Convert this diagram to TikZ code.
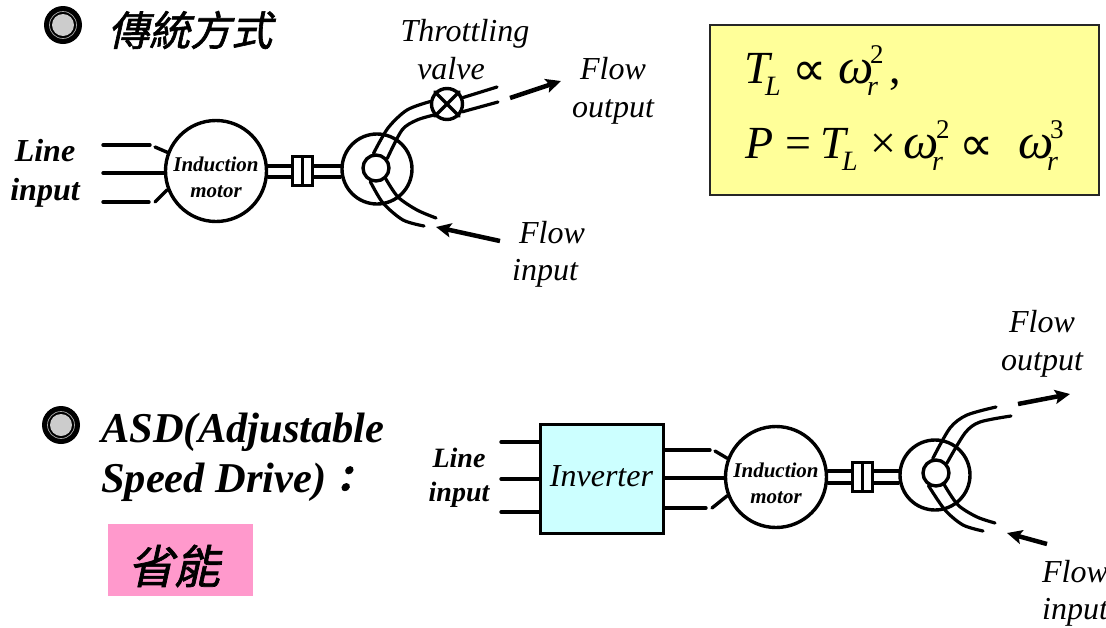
\documentclass[tikz,border=0pt]{standalone}
\usepackage{fontspec}
\setmainfont{Liberation Serif}
\newfontfamily\cjkslant[FakeSlant=0.22,FakeBold=1.5]{Noto Sans CJK TC}
\newfontfamily\symf{DejaVu Sans}
\usetikzlibrary{arrows.meta}
\definecolor{pinkbox}{HTML}{FF99CC}
\definecolor{yellowbox}{HTML}{FFFF99}
\definecolor{cyanbox}{HTML}{CCFFFF}
\newcommand{\fsz}[1]{\fontsize{#1}{#1}\selectfont}
\tikzset{
  x=1pt,y=-1pt,
  wire/.style={line width=3.4pt,line cap=round},
  pipe/.style={line width=3.2pt,line cap=round,line join=round},
  ring/.style={circle,draw,line width=3.4pt,inner sep=0pt,fill=white},
  motor/.style={ring,minimum size=101pt},
  motortext/.style={align=center,inner sep=0pt,font=\fsz{21}\bfseries\itshape},
  pump/.style={ring,fill=none,minimum size=70pt},
  hub/.style={ring,minimum size=26pt},
  valvec/.style={ring,minimum size=31pt},
  flow/.style={line width=4.5pt,-{Stealth[length=15pt,width=14pt,inset=3pt]}},
  shaft/.style={draw,line width=3pt,fill=white,inner sep=0pt,minimum width=1pt},
  divider/.style={line width=3pt},
  lbl/.style={font=\fsz{32}\itshape,align=center,inner sep=0pt},
  blbl/.style={font=\fsz{32}\bfseries\itshape,align=center,inner sep=0pt},
  bulout/.style={circle,fill=black,minimum size=38pt,inner sep=0pt},
  bulmid/.style={circle,fill=black,draw=black!35,line width=0.7pt,minimum size=27pt,inner sep=0pt},
  bulin/.style={circle,fill=black!20,minimum size=22pt,inner sep=0pt},
  eq/.style={anchor=base west,inner sep=0pt,font=\fsz{46}\itshape},
  hd/.style={anchor=base west,inner sep=0pt,font=\fsz{42.5}\bfseries\itshape},
}
% glyph placed at x offset, raised by r, in the size s
\newcommand{\gl}[4]{\rlap{\kern#1pt\raisebox{#2pt}{\fsz{#3}#4}}}
\begin{document}
\begin{tikzpicture}
\useasboundingbox (0,0) rectangle (1106,627);

% bullets and headings
\node[bulout] (bulA) at (63,25) {};
\node[bulmid] (bmA) at (63,25) {};
\node[bulin] (binA) at (63,25) {};
\node[anchor=west,inner sep=0pt,font=\fsz{41}\cjkslant] (headA) at (108,30) {傳統方式};
\node[bulout] (bulB) at (61,425) {};
\node[bulmid] (bmB) at (61,425) {};
\node[bulin] (binB) at (61,425) {};
\node[hd] (headB) at (101,442) {ASD(Adjustable};
\node[hd] (headC) at (101,492) {Speed Drive){\cjkslant\fsz{36}：}};
\node[anchor=north west,fill=pinkbox,minimum width=145pt,minimum height=72pt,inner sep=0pt] (pink) at (108,524) {};
\node[inner sep=0pt,font=\fsz{46}\cjkslant] (saving) at (174,566) {省能};

% equation box
\node[anchor=north west,draw=black!85,line width=1.6pt,fill=yellowbox,minimum width=389pt,minimum height=170pt,inner sep=0pt] (eqbox) at (709,24) {};
\node[eq] (eqA) at (744,83) {\gl{0}{0}{46}{T}\gl{21}{-12}{28}{L}\gl{48}{-2}{48}{\symf\upshape ∝}\gl{94}{0}{50}{ω}\gl{126}{20}{27}{\upshape 2}\gl{123}{-12}{28}{r}\gl{145}{0}{46}{\upshape ,}\phantom{T}};
\node[eq] (eqB) at (745,158) {\gl{0}{0}{46}{P}\gl{40}{0}{46}{\upshape =}\gl{75}{0}{46}{T}\gl{97}{-12}{28}{L}\gl{125}{0}{46}{\upshape ×}\gl{158}{0}{50}{ω}\gl{191}{20}{27}{\upshape 2}\gl{187}{-12}{28}{r}\gl{214}{-2}{48}{\symf\upshape ∝}\gl{273}{0}{50}{ω}\gl{305}{20}{27}{\upshape 3}\gl{302}{-12}{28}{r}\phantom{P}};

% upper drive
\node[motor] (motorA) at (216,171) {};
\node[motortext] (motorAt) at (216,177) {Induction\\[5pt]motor};
\node[pump] (pumpA) at (377,169) {};
\node[hub] (hubA) at (376,168) {};
\node[valvec] (valveA) at (447,104) {};
\node[blbl] (lineA) at (45,173.5) {Line\\[7pt]input};
\coordinate (ia) at (103,145); \coordinate (ib) at (150,145); \coordinate (ic) at (155,147);
\coordinate (id) at (103,173);
\coordinate (ie) at (103,202); \coordinate (if) at (149,202); \coordinate (ig) at (155,202);
\draw[wire] (ia) -- (ib);
\draw[wire] (ic) -- (motorA.159);
\draw[wire] (id) -- (motorA.west |- id);
\draw[wire] (ie) -- (if);
\draw[wire] (ig) -- (motorA.201);
\draw[wire] (motorA.east |- 0,166) -- (pumpA.west |- 0,166);
\draw[wire] (motorA.east |- 0,177) -- (pumpA.west |- 0,177);
\node[shaft,minimum width=20pt,minimum height=29pt] (coupA) at (302,171) {};
\draw[divider] (coupA.north) -- (coupA.south);
\draw[pipe] plot[smooth] coordinates {(hubA.100) (388,128) (407,110) (valveA.172)};
\draw[pipe] plot[smooth] coordinates {(hubA.40) (402,130) (417,120) (valveA.220)};
\draw[pipe] plot[smooth] coordinates {(hubA.247) (383,203) (403,220) (424,226)};
\draw[pipe] plot[smooth] coordinates {(hubA.312) (398,197) (417,210) (436,218)};
\coordinate (oa) at (497,87); \coordinate (ob) at (498,102);
\draw[pipe] (valveA.22) -- (oa);
\draw[pipe] (valveA.333) -- (ob);
\draw[wire] (valveA.45) -- (valveA.225);
\draw[wire] (valveA.135) -- (valveA.315);
\coordinate (fa) at (510,98); \coordinate (fb) at (561,81);
\coordinate (fc) at (500,241); \coordinate (fd) at (436,227);
\draw[flow] (fa) -- (fb);
\draw[flow] (fc) -- (fd);
\node[lbl] (thrA) at (465,34) {Throttling};
\node[lbl] (thrB) at (451,69) {valve};
\node[lbl] (outA) at (613,91) {Flow\\[6pt]output};
\node[lbl] (inA) at (552,233) {Flow};
\node[lbl] (inAb) at (545,273) {input};

% lower drive
\node[blbl,font=\fsz{28}\bfseries\itshape] (lineB) at (459,478) {Line\\[6pt]input};
\node[draw,line width=3pt,fill=cyanbox,minimum width=123pt,minimum height=109pt,inner sep=0pt,font=\fsz{32}\itshape] (inv) at (601.5,478.5) {\raisebox{4pt}{Inverter}};
\node[motor] (motorB) at (776,477) {};
\node[motortext] (motorBt) at (776,483) {Induction\\[5pt]motor};
\node[pump] (pumpB) at (935,475) {};
\node[hub] (hubB) at (936,473) {};
\coordinate (ja) at (501,442); \coordinate (jb) at (501,479); \coordinate (jc) at (501,512);
\draw[wire] (ja) -- (inv.west |- ja);
\draw[wire] (jb) -- (inv.west |- jb);
\draw[wire] (jc) -- (inv.west |- jc);
\coordinate (ka) at (710,450); \coordinate (kb) at (715,451); \coordinate (kc) at (706,508); \coordinate (kd) at (712,508); \coordinate (ke) at (0,478);
\draw[wire] (inv.east |- ka) -- (ka);
\draw[wire] (kb) -- (motorB.159);
\draw[wire] (inv.east |- ke) -- (motorB.west |- ke);
\draw[wire] (inv.east |- kc) -- (kc);
\draw[wire] (kd) -- (motorB.201);
\draw[wire] (motorB.east |- 0,471) -- (pumpB.west |- 0,471);
\draw[wire] (motorB.east |- 0,483) -- (pumpB.west |- 0,483);
\node[shaft,minimum width=20pt,minimum height=29pt] (coupB) at (862,477) {};
\draw[divider] (coupB.north) -- (coupB.south);
\draw[pipe] plot[smooth] coordinates {(hubB.103) (950,428) (967,415) (996,407)};
\draw[pipe] plot[smooth] coordinates {(hubB.42) (965,433) (980,422) (1011,416)};
\draw[pipe] plot[smooth] coordinates {(hubB.239) (945,510) (963,525) (983,531)};
\draw[pipe] plot[smooth] coordinates {(hubB.305) (958,505) (977,517) (995,523)};
\coordinate (ga) at (1018,404); \coordinate (gb) at (1070,394);
\coordinate (gc) at (1047,544); \coordinate (gd) at (1007,533);
\draw[flow] (ga) -- (gb);
\draw[flow] (gc) -- (gd);
\node[lbl] (outB) at (1042,344) {Flow\\[6pt]output};
\node[lbl] (inB) at (1075,593) {Flow\\[5pt]input};
\end{tikzpicture}
\end{document}
